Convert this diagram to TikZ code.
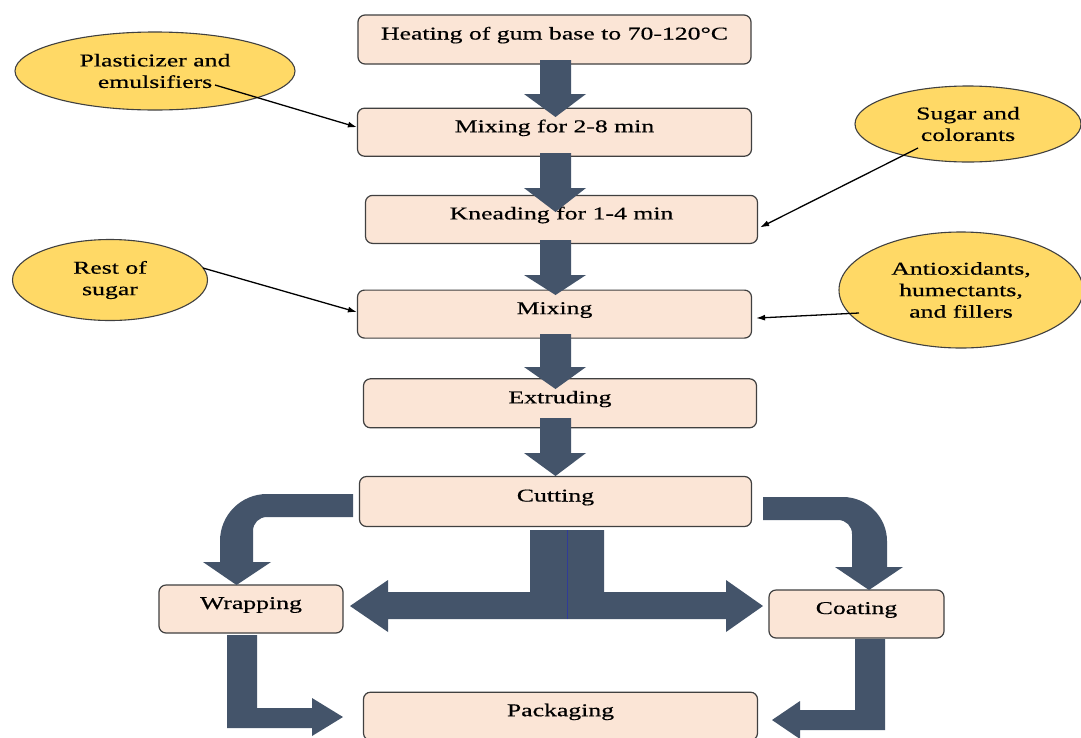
\documentclass[tikz,border=0pt]{standalone}
\usepackage{fontspec}
\setmainfont[FakeStretch=1.43,FakeBold=0.5]{Liberation Serif}
\usetikzlibrary{positioning,shapes.geometric,arrows.meta}

\definecolor{StageFill}{HTML}{FBE5D6}
\definecolor{InputFill}{HTML}{FFD966}
\definecolor{FlowBlue}{HTML}{44546A}
\definecolor{EdgeGray}{HTML}{404040}

\tikzset{
  stage/.style={draw=EdgeGray, line width=1.2pt, fill=StageFill,
    rounded corners=7pt, minimum height=48pt,
    text height=12pt, text depth=12pt, inner sep=0pt},
  input/.style={ellipse, draw=EdgeGray, line width=1.1pt, fill=InputFill,
    align=center, inner sep=0pt},
  feed/.style={draw=black, line width=1.3pt, -{Latex[length=9pt,width=6pt]}},
  bigarrow/.style={fill=FlowBlue}
}

\begin{document}
\begin{tikzpicture}[x=1pt, y=-1pt, font=\fontsize{18}{21.5}\selectfont]
    \useasboundingbox (0,0) rectangle (1081,737);
    \fill[white] (0,0) rectangle (1081,737);
    \clip (0,0) rectangle (1081,737);

    \node[stage, minimum width=393pt, minimum height=49pt] (Heating)
      at (554.5,39.5) {Heating of gum base to 70-120°C};
    \node[stage, minimum width=394pt, below={43pt of Heating}] (MixingShort)
      {Mixing for 2-8 min};
    \node[stage, minimum width=392pt, below={38pt of MixingShort}, xshift=7pt]
      (Kneading) {Kneading for 1-4 min};
    \node[stage, minimum width=394pt, below={45.5pt of Kneading}, xshift=-7pt]
      (Mixing) {Mixing};
    \node[stage, minimum width=393pt, minimum height=49pt,
      below={39.5pt of Mixing}, xshift=5.5pt] (Extruding) {Extruding};
    \node[stage, minimum width=392pt, minimum height=50pt,
      below={47.5pt of Extruding}, xshift=-4.5pt] (Cutting) {Cutting};
    \node[stage, minimum width=394pt, below={164.5pt of Cutting}, xshift=5pt]
      (Packaging) {Packaging};
    \node[stage, minimum width=184pt] (Wrapping) at (251,609) {Wrapping};
    \node[stage, minimum width=175pt] (Coating) at (856.5,614) {Coating};

    \node[input, minimum width=280pt, minimum height=78pt] (Plasticizer)
      at (155,71) {Plasticizer and\\emulsifiers};
    \node[input, minimum width=226pt, minimum height=76pt] (SugarColorants)
      at (968,124) {Sugar and\\colorants};
    \node[input, minimum width=195pt, minimum height=81pt] (RestSugar)
      at (110,280) {Rest of\\sugar};
    \node[input, minimum width=244pt, minimum height=116pt] (Antioxidants)
      at (961,290) {Antioxidants,\\humectants,\\and fillers};

    \coordinate (PlasticizerOut) at (215,85);
    \coordinate (SugarOut) at (918,148);
    \coordinate (RestOut) at (203,268);
    \coordinate (AntioxOut) at (859,313);

    \draw[feed] (PlasticizerOut) -- ([yshift=5pt]MixingShort.west);
    \draw[feed] (SugarOut) -- ([xshift=2pt,yshift=-8pt]Kneading.east);
    \draw[feed] (RestOut) -- ([yshift=2pt]Mixing.west);
    \draw[feed] (AntioxOut) -- ([xshift=4pt,yshift=-4pt]Mixing.east);

    \foreach \Top/\Base/\Tip in {60/94/117, 153/188/212, 240/275/295,
        334/367/389, 418/453/476}
      \fill[bigarrow] (540,\Top) -- (571,\Top) -- (571,\Base) -- (586,\Base)
        -- (555.5,\Tip) -- (524,\Base) -- (540,\Base) -- cycle;

    \fill[bigarrow] (353,494) -- (267,494)
      .. controls (241,494) and (220,515) .. (220,541)
      -- (220,562) -- (203,562) -- (236.5,585) -- (271,562) -- (253,562)
      -- (253,531) .. controls (253,523) and (259,517) .. (267,517)
      -- (353,517) -- cycle;
    \fill[bigarrow] (763,497) -- (843,497)
      .. controls (867,497) and (887,517) .. (887,541)
      -- (887,567) -- (903,567) -- (869,590) -- (835,567) -- (852,567)
      -- (852,534) .. controls (852,526) and (846,520) .. (838,520)
      -- (763,520) -- cycle;

    \fill[bigarrow] (567,530) -- (530,530) -- (530,592) -- (388,592)
      -- (388,580) -- (350,606) -- (388,632) -- (388,619) -- (567,619) -- cycle;
    \fill[bigarrow] (567,530) -- (604,530) -- (604,592) -- (726,592)
      -- (726,580) -- (763,606) -- (726,632) -- (726,619) -- (567,619) -- cycle;
    \draw[line width=1pt, color=FlowBlue!70!blue] (567,530) -- (567,619);

    \fill[bigarrow] (227,635) -- (257,635) -- (257,708) -- (312,708)
      -- (312,698) -- (343,717) -- (312,736) -- (312,728) -- (227,728) -- cycle;
    \fill[bigarrow] (855,639) -- (885,639) -- (885,730) -- (800,730)
      -- (800,739) -- (772,720) -- (800,701) -- (800,710) -- (855,710) -- cycle;
\end{tikzpicture}
\end{document}
